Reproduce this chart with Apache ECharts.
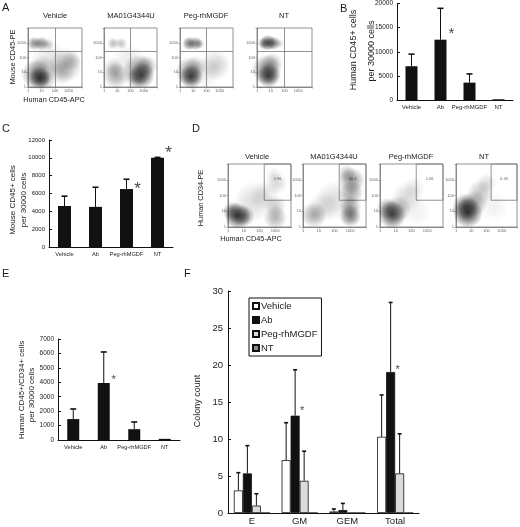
<!DOCTYPE html>
<html><head><meta charset="utf-8">
<script src="https://cdn.jsdelivr.net/npm/echarts@6/dist/echarts.min.js"></script>
<style>html,body{margin:0;padding:0;background:#fff}#c{width:520px;height:527px}</style>
</head><body><div id="c"></div>
<script>
// ---------- DATA ----------
var flowTitles = ['Vehicle', 'MA01G4344U', 'Peg-rhMGDF', 'NT'];
var flowTicks = [1, 10, 100, 1000];
// density clouds: [x, y, cloud size, darkness]
var flowA_vehicle = [[7,4,22,0.95],[4,7,30,0.55],[12,15,28,0.35],[20,3,20,0.4],[3,900,14,0.6],[10,900,14,0.6],[30,800,12,0.3],[600,30,34,0.35],[300,10,26,0.25],[1500,60,20,0.25],[40,60,40,0.15]];
var flowA_ma01 = [[700,6,26,0.85],[400,15,30,0.5],[1500,25,22,0.45],[250,4,22,0.4],[8,6,26,0.45],[5,20,20,0.25],[5,900,12,0.35],[20,900,12,0.3],[80,40,40,0.12]];
var flowA_peg = [[7,5,24,0.95],[5,12,28,0.5],[15,25,22,0.3],[5,900,14,0.7],[15,900,14,0.6],[30,850,10,0.35],[500,30,30,0.25],[100,10,30,0.12]];
var flowA_nt = [[7,6,24,0.95],[5,15,30,0.6],[12,40,22,0.35],[6,1000,16,0.9],[15,950,14,0.7],[3,900,12,0.5],[40,900,10,0.25]];
var flowD_vehicle = [[4,5,26,0.95],[2,10,20,0.6],[10,5,22,0.6],[40,40,40,0.18],[200,100,30,0.15],[1000,4,24,0.4],[1000,20,22,0.25],[1200,600,22,0.2],[800,2000,16,0.12]];
var flowD_ma01 = [[5,6,26,0.45],[1000,5,22,0.7],[1000,20,22,0.5],[1200,150,24,0.45],[1200,900,26,0.55],[600,2500,18,0.3],[100,50,40,0.18],[20,20,30,0.15]];
var flowD_peg = [[6,6,28,0.95],[3,15,22,0.5],[15,15,26,0.4],[50,80,30,0.2],[150,300,22,0.12],[200,10,30,0.08]];
var flowD_nt = [[6,8,30,1],[4,20,26,0.7],[15,30,26,0.45],[40,150,26,0.3],[100,600,20,0.18],[300,20,30,0.08]];
var quadrantX = 100, quadrantY = 250;
var gateCorner = [200, 50];
var gatePercent = ['1.96', '40.6', '1.06', '0.35'];

var barCats = ['Vehicle', 'Ab', 'Peg-rhMGDF', 'NT'];
var bValues = [7000, 12500, 3600, 150];
var bErrTop = [9500, 19000, 5400, null];
var bStar = [[1, 14300]];
var cValues = [4600, 4500, 6500, 10000];
var cErrTop = [5700, 6700, 7600, 10050];
var cStar = [[2, 6900], [3, 10900]];
var eValues = [1450, 3950, 750, 80];
var eErrTop = [2150, 6100, 1250, null];
var eStar = [[1, 4350]];

var fCats = ['E', 'GM', 'GEM', 'Total'];
var fSeriesNames = ['Vehicle', 'Ab', 'Peg-rhMGDF', 'NT'];
var fVehicle = [3.05, 7.15, 0.2, 10.3];
var fAb = [5.35, 13.15, 0.4, 19.05];
var fPeg = [1.0, 4.35, 0, 5.35];
var fNT = [0, 0, 0, 0];
var fVehicleErr = [5.45, 12.2, 0.55, 15.95];
var fAbErr = [9.1, 19.35, 1.3, 28.45];
var fPegErr = [2.6, 8.35, null, 10.7];
var fNTErr = [null, null, null, null];
var fStar = [[1, 14.1], [3, 19.6]];

// ---------- CHART ----------
var FONT = 'Liberation Sans, Arial, sans-serif';
var TXT = '#1a1a1a';
var chart = echarts.init(document.getElementById('c'), null, {renderer: 'canvas'});
var plain = function (v) { return String(Math.round(v * 100) / 100); };

var grids = [], xAxes = [], yAxes = [], series = [];

function addFlow(rect, blobs, gi, gated, gateLabel) {
  grids.push({left: rect[0], top: rect[1], width: rect[2], height: rect[3], show: true, borderColor: '#777', borderWidth: 0.8});
  var lab = {fontSize: 4, color: '#666', margin: 2, fontFamily: FONT,
    formatter: function (v) { var r = Math.round(v); return flowTicks.indexOf(r) >= 0 ? String(r) : ''; }};
  var common = {type: 'log', logBase: 10, min: 1, max: 10000, gridIndex: gi,
    axisLine: {show: true, lineStyle: {color: '#777', width: 0.8}},
    axisTick: {show: true, length: 1.5, lineStyle: {color: '#777', width: 0.6}},
    splitLine: {show: false}, axisLabel: lab};
  xAxes.push(Object.assign({}, common));
  yAxes.push(Object.assign({}, common));
  var s = {
    type: 'scatter', xAxisIndex: gi, yAxisIndex: gi, silent: true,
    data: blobs.map(function (b) {
      var a = b[3];
      return {value: [b[0], b[1]], symbolSize: b[2], itemStyle: {color: {type: 'radial', x: 0.5, y: 0.5, r: 0.5,
        colorStops: [{offset: 0, color: 'rgba(15,15,15,' + a + ')'}, {offset: 0.45, color: 'rgba(15,15,15,' + (a * 0.65) + ')'}, {offset: 1, color: 'rgba(15,15,15,0)'}]}}};
    })
  };
  if (gated) {
    s.markArea = {silent: true, label: {show: false}, itemStyle: {color: 'rgba(0,0,0,0)', borderColor: '#777', borderWidth: 0.8},
      data: [[{coord: gateCorner}, {coord: [10000, 10000]}]]};
  } else {
    s.markLine = {silent: true, symbol: 'none', label: {show: false}, lineStyle: {color: '#777', width: 0.8, type: 'solid'},
      data: [{xAxis: quadrantX}, {yAxis: quadrantY}]};
  }
  series.push(s);
  if (gated) {
    series.push({type: 'scatter', xAxisIndex: gi, yAxisIndex: gi, silent: true, symbolSize: 1, itemStyle: {color: 'rgba(0,0,0,0)'},
      label: {show: true, position: 'inside', formatter: gateLabel, fontSize: 4, color: '#333', fontFamily: FONT},
      data: [[1400, 1200]]});
  }
}

function errRender(offset, capW) {
  return function (params, api) {
    var v = api.value(1), e = api.value(2);
    if (e == null || isNaN(e) || e <= v) return null;
    var p0 = api.coord([api.value(0), v]);
    var p1 = api.coord([api.value(0), e]);
    var cx = p0[0] + offset;
    return {type: 'group', children: [
      {type: 'line', shape: {x1: cx, y1: p0[1], x2: cx, y2: p1[1]}, style: {stroke: '#111', lineWidth: 1}},
      {type: 'line', shape: {x1: cx - capW / 2, y1: p1[1], x2: cx + capW / 2, y2: p1[1]}, style: {stroke: '#111', lineWidth: 1.6}}
    ]};
  };
}

function starSeries(gi, pts, fs, dx) {
  return {type: 'scatter', xAxisIndex: gi, yAxisIndex: gi, silent: true, symbolSize: 1, itemStyle: {color: 'rgba(0,0,0,0)'},
    label: {show: true, position: 'inside', formatter: '*', fontSize: fs, color: '#111', fontFamily: FONT, offset: [dx, fs * 0.22]},
    data: pts};
}

function addBar(rect, gi, vals, errs, stars, opt) {
  grids.push({left: rect[0], top: rect[1], width: rect[2], height: rect[3]});
  xAxes.push({type: 'category', gridIndex: gi, data: barCats,
    axisLine: {lineStyle: {color: '#111', width: 1}}, axisTick: {inside: true, length: 3, lineStyle: {color: '#111'}},
    axisLabel: {fontSize: opt.catFs, color: TXT, margin: 4, fontFamily: FONT, interval: 0}});
  yAxes.push({type: 'value', gridIndex: gi, min: 0, max: opt.max, interval: opt.interval,
    axisLine: {show: true, lineStyle: {color: '#111', width: 1}}, axisTick: {show: true, inside: true, length: 3, lineStyle: {color: '#111'}},
    splitLine: {show: false}, axisLabel: {fontSize: opt.tickFs, color: TXT, margin: 4, fontFamily: FONT, formatter: plain}});
  series.push({type: 'bar', name: 'bars' + gi, xAxisIndex: gi, yAxisIndex: gi, data: vals, barWidth: opt.barW, itemStyle: {color: '#111'}, silent: true});
  series.push({type: 'custom', name: 'err' + gi, xAxisIndex: gi, yAxisIndex: gi, renderItem: errRender(0, opt.capW), silent: true,
    encode: {x: 0, y: [1, 2]}, data: vals.map(function (v, i) { return [i, v, errs[i]]; })});
  series.push(starSeries(gi, stars, opt.starFs, opt.starDx));
}

// A flow plots (grids 0-3)
var flowA = [flowA_vehicle, flowA_ma01, flowA_peg, flowA_nt];
var rectA = [[28, 28, 54, 59], [104, 28, 53, 59], [180, 28, 53, 59], [257, 28, 55, 59]];
for (var i = 0; i < 4; i++) addFlow(rectA[i], flowA[i], i, false);
// B (4)
addBar([397, 3, 116, 97], 4, bValues, bErrTop, bStar, {max: 20000, interval: 5000, barW: 12, capW: 6, catFs: 6, tickFs: 6.5, starFs: 15, starDx: 11});
// C (5)
addBar([49, 140, 124, 107], 5, cValues, cErrTop, cStar, {max: 12000, interval: 2000, barW: 13, capW: 6, catFs: 5.7, tickFs: 6, starFs: 17, starDx: 11});
// D flow plots (6-9)
var flowD = [flowD_vehicle, flowD_ma01, flowD_peg, flowD_nt];
var rectD = [[228, 164, 63, 63], [303, 164, 63, 63], [380, 164, 63, 63], [456, 164, 62, 63]];
for (var j = 0; j < 4; j++) addFlow(rectD[j], flowD[j], 6 + j, true, gatePercent[j]);
// E (10)
addBar([58, 339, 122, 101], 10, eValues, eErrTop, eStar, {max: 7000, interval: 1000, barW: 12, capW: 6, catFs: 5.7, tickFs: 6.5, starFs: 11, starDx: 10});

// F (11)
grids.push({left: 228, top: 291, width: 191, height: 222});
xAxes.push({type: 'category', gridIndex: 11, data: fCats,
  axisLine: {lineStyle: {color: '#111', width: 1}}, axisTick: {inside: true, length: 3, lineStyle: {color: '#111'}},
  axisLabel: {fontSize: 9.5, color: TXT, margin: 3, fontFamily: FONT}});
yAxes.push({type: 'value', gridIndex: 11, min: 0, max: 30, interval: 5,
  axisLine: {show: true, lineStyle: {color: '#111', width: 1}}, axisTick: {show: true, inside: true, length: 3, lineStyle: {color: '#111'}},
  splitLine: {show: false}, axisLabel: {fontSize: 9.5, color: TXT, margin: 5, fontFamily: FONT, formatter: plain}});
var fVals = [fVehicle, fAb, fPeg, fNT];
var fErrs = [fVehicleErr, fAbErr, fPegErr, fNTErr];
var fColors = ['#ffffff', '#111111', '#dcdcdc', '#8a8a8a'];
for (var k = 0; k < 4; k++) {
  series.push({type: 'bar', name: fSeriesNames[k], xAxisIndex: 11, yAxisIndex: 11, data: fVals[k], barWidth: 9, barGap: '0%', silent: true,
    itemStyle: {color: fColors[k], borderColor: '#111', borderWidth: 0.8}});
}
for (var k2 = 0; k2 < 4; k2++) {
  (function (kk) {
    series.push({type: 'custom', name: 'ferr' + kk, xAxisIndex: 11, yAxisIndex: 11, renderItem: errRender((kk - 1.5) * 9, 4), silent: true,
      encode: {x: 0, y: [1, 2]}, data: fVals[kk].map(function (v, i) { return [i, v, fErrs[kk][i]]; })});
  })(k2);
}
series.push(starSeries(11, fStar, 11, -4.5 + 7));

// ---------- TEXT ----------
function t(text, x, y, fs, rot, align, valign) {
  return {type: 'text', x: x, y: y, rotation: rot ? Math.PI / 2 : 0, silent: true,
    style: {text: text, fill: TXT, font: fs + 'px ' + FONT, align: align || 'center', verticalAlign: valign || 'middle'}};
}
var graphics = [
  t('A', 2, 2, 11, false, 'left', 'top'), t('B', 340, 3, 11, false, 'left', 'top'),
  t('C', 2, 123, 11, false, 'left', 'top'), t('D', 192, 123, 11, false, 'left', 'top'),
  t('E', 2, 268, 11, false, 'left', 'top'), t('F', 184, 268, 11, false, 'left', 'top'),
  t(flowTitles[0], 55, 16, 7.5), t(flowTitles[1], 131, 16, 7.5), t(flowTitles[2], 206, 16, 7.5), t(flowTitles[3], 284, 16, 7.5),
  t('Mouse CD45-PE', 13, 57, 7.3, true), t('Human CD45-APC', 54, 100, 7.3),
  t(flowTitles[0], 257, 157, 7.5), t(flowTitles[1], 334, 157, 7.5), t(flowTitles[2], 411, 157, 7.5), t(flowTitles[3], 484, 157, 7.5),
  t('Human CD34-PE', 201, 198, 7.3, true), t('Human CD45-APC', 251, 239, 7.3),
  t('Human CD45+ cells', 354, 50, 9, true), t('per 30000 cells', 372, 51, 9, true),
  t('Mouse CD45+ cells', 13, 200, 8, true), t('per 30000 cells', 24, 200, 8, true),
  t('Human CD45+/CD34+ cells', 22, 390, 8, true), t('per 30000 cells', 32, 395, 8, true),
  t('Colony count', 198, 401, 9, true)
];

chart.setOption({
  animation: false,
  backgroundColor: '#fff',
  textStyle: {fontFamily: FONT},
  grid: grids, xAxis: xAxes, yAxis: yAxes, series: series,
  legend: {data: fSeriesNames, orient: 'vertical', left: 249, top: 298, width: 73,
    itemWidth: 6, itemHeight: 6, itemGap: 4, padding: [3, 4, 3, 3], icon: 'rect',
    borderColor: '#111', borderWidth: 1, textStyle: {fontSize: 9.5, color: TXT, padding: [0, 0, 0, -3], fontFamily: FONT}},
  graphic: graphics
});
</script></body></html>
